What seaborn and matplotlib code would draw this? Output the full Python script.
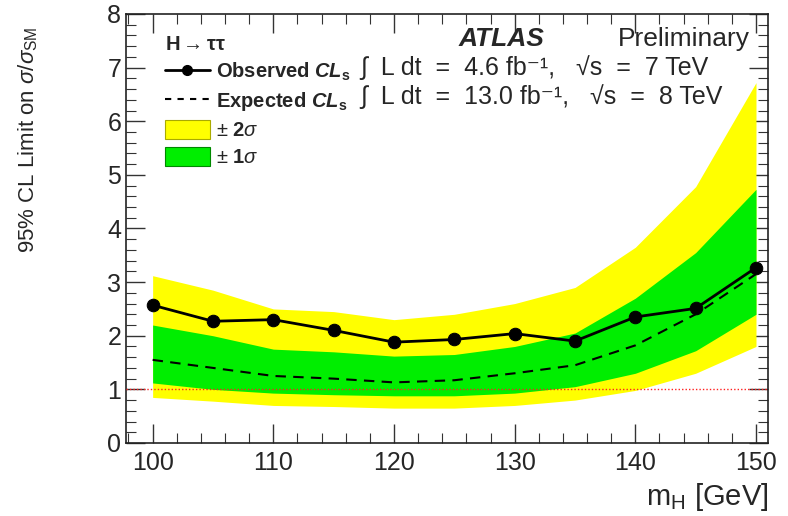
import numpy as np
import pandas as pd
import matplotlib
matplotlib.use("Agg")
import matplotlib.pyplot as plt
import seaborn as sns
from matplotlib.lines import Line2D
from matplotlib.patches import Patch
from matplotlib.ticker import MultipleLocator

mass = [100, 105, 110, 115, 120, 125, 130, 135, 140, 145, 150]
observed = [2.57, 2.27, 2.30, 2.10, 1.88, 1.93, 2.04, 1.90, 2.35, 2.51, 3.27]
expected = [1.55, 1.40, 1.25, 1.20, 1.13, 1.17, 1.30, 1.45, 1.82, 2.40, 3.15]
band1_hi = [2.20, 2.00, 1.75, 1.70, 1.62, 1.65, 1.80, 2.05, 2.70, 3.55, 4.73]
band1_lo = [1.12, 1.00, 0.93, 0.90, 0.88, 0.88, 0.93, 1.05, 1.30, 1.72, 2.40]
band2_hi = [3.12, 2.85, 2.50, 2.45, 2.30, 2.40, 2.60, 2.90, 3.65, 4.78, 6.72]
band2_lo = [0.85, 0.78, 0.70, 0.68, 0.65, 0.65, 0.70, 0.80, 0.98, 1.30, 1.80]

df = pd.DataFrame({"mH": mass, "obs": observed, "exp": expected})

sns.set_theme(style="ticks")
plt.rcParams["font.family"] = ["Liberation Sans", "DejaVu Sans"]
plt.rcParams["mathtext.fontset"] = "custom"
plt.rcParams["mathtext.rm"] = "Liberation Sans"
plt.rcParams["mathtext.it"] = "Liberation Sans:italic"
plt.rcParams["mathtext.bf"] = "Liberation Sans:bold"
plt.rcParams["mathtext.bfit"] = "Liberation Sans:bold:italic"

fig = plt.figure(figsize=(7.88, 5.16), dpi=100)
ax = fig.add_axes([0.16, 0.1415, 0.8147, 0.8314])

ax.fill_between(mass, band2_lo, band2_hi, color="#ffff00", lw=0, zorder=1)
ax.fill_between(mass, band1_lo, band1_hi, color="#00ee00", lw=0, zorder=2)
ax.axhline(1.0, color="#ff2020", lw=1.0, ls=(0, (1, 1.5)), zorder=3)
sns.lineplot(data=df, x="mH", y="exp", ax=ax, color="black", lw=1.5,
             linestyle=(0, (5, 3.5)), zorder=4)
sns.lineplot(data=df, x="mH", y="obs", ax=ax, color="black", lw=2,
             marker="o", markersize=9, markeredgecolor="black", zorder=5)

ax.set_xlim(97.8, 151.0)
ax.set_ylim(0, 8)
ax.xaxis.set_major_locator(MultipleLocator(10))
ax.xaxis.set_minor_locator(MultipleLocator(2))
ax.yaxis.set_major_locator(MultipleLocator(1))
ax.yaxis.set_minor_locator(MultipleLocator(0.2))
ax.tick_params(which="both", direction="in", top=True, right=True,
               labelsize=18, color="#333333")
ax.tick_params(which="major", length=14, width=1)
ax.tick_params(which="minor", length=7, width=0.8)
ax.tick_params(axis="x", pad=6)
for s in ax.spines.values():
    s.set_linewidth(1.2)
    s.set_color("#222222")
ax.set_xlabel("")
ax.set_ylabel("")

fig.text(0.975, 0.036, r"m$_\mathrm{H}$ [GeV]", ha="right", va="center", fontsize=21)
fig.text(0.036, 1 - 27 / 516, r"95% CL Limit on $\sigma/\sigma_\mathrm{SM}$",
         rotation=90, ha="center", va="top", fontsize=16)

ax.text(0.061, 0.928, r"$\mathbf{H \rightarrow \tau\tau}$", transform=ax.transAxes,
        fontsize=14.5, va="center")
ax.text(0.518, 0.942, "ATLAS", transform=ax.transAxes, fontsize=19,
        fontweight="bold", fontstyle="italic", va="center")
ax.text(0.972, 0.942, "Preliminary", transform=ax.transAxes, fontsize=19,
        ha="right", va="center")

handles = [
    Line2D([], [], color="black", lw=2, marker="o", markersize=7),
    Line2D([], [], color="black", lw=1.5, linestyle=(0, (3, 3))),
    Patch(facecolor="#ffff00", edgecolor="#aaaa00", lw=0.8),
    Patch(facecolor="#00ee00", edgecolor="#008800", lw=0.8),
]
labels = [r"Observed $\mathbfit{CL}_\mathbf{s}$", r"Expected $\mathbfit{CL}_\mathbf{s}$",
          r"$\pm$ 2$\sigma$", r"$\pm$ 1$\sigma$"]
leg = ax.legend(handles, labels, loc="upper left", bbox_to_anchor=(0.061, 0.89),
                frameon=False, prop={"weight": "bold", "size": 14.5},
                handlelength=2.2, handleheight=1.1, handletextpad=0.3,
                labelspacing=0.33, borderpad=0.0, borderaxespad=0.0)

ax.text(0.364, 0.874, "∫  L dt  =  4.6 fb⁻¹,   √s  =  7 TeV",
        transform=ax.transAxes, fontsize=18, va="center")
ax.text(0.364, 0.807, "∫  L dt  =  13.0 fb⁻¹,   √s  =  8 TeV",
        transform=ax.transAxes, fontsize=18, va="center")

fig.savefig("out.png", dpi=100)
